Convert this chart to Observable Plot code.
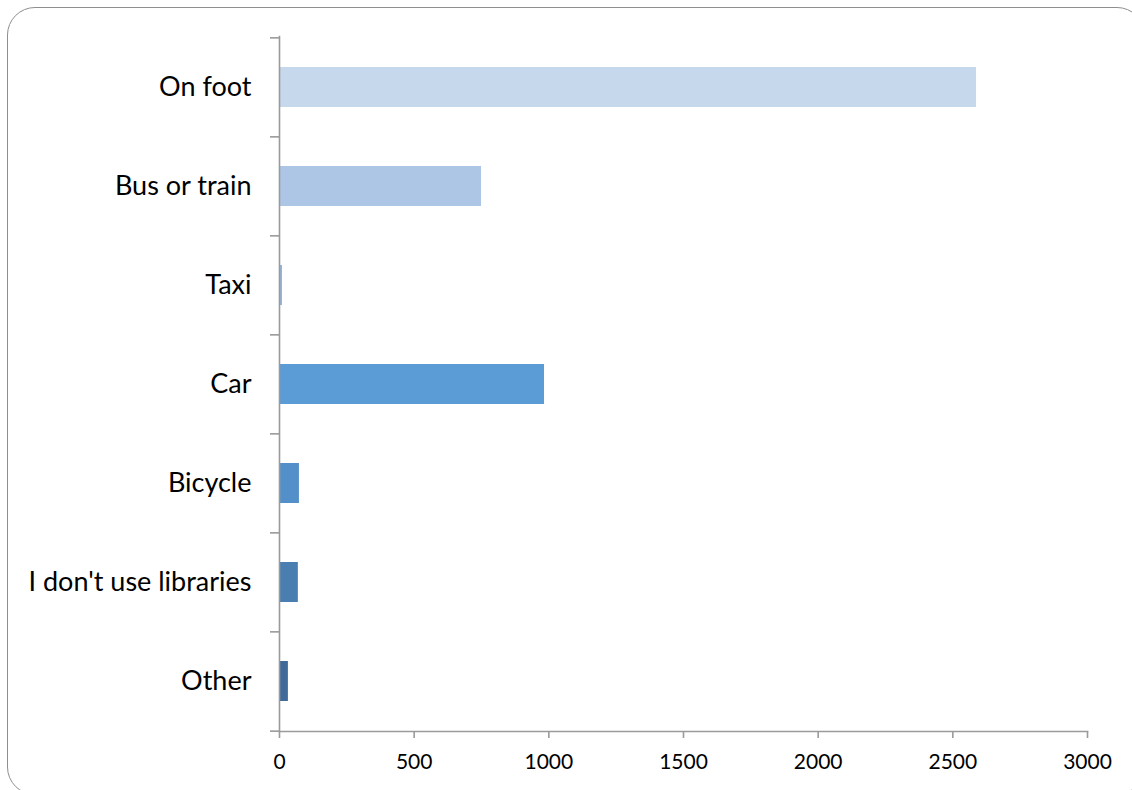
<!DOCTYPE html>
<html>
<head>
<meta charset="utf-8">
<script src="https://cdn.jsdelivr.net/npm/d3@7"></script>
<script src="https://cdn.jsdelivr.net/npm/@observablehq/plot@0.6"></script>
<style>
  html, body { margin: 0; padding: 0; background: #fff; overflow: hidden; }
  #wrap { position: relative; width: 1132px; height: 790px; overflow: hidden; }
  #box { position: absolute; left: 7px; top: 7px; width: 1138px; height: 788px;
         border: 1.5px solid #8e8e8e; border-radius: 28px; box-sizing: border-box; }
  #chart { position: absolute; left: 0; top: 0; }
</style>
</head>
<body>
<div id="wrap"><div id="box"></div><div id="chart"></div></div>
<script>
const categories = ["On foot", "Bus or train", "Taxi", "Car", "Bicycle", "I don't use libraries", "Other"];
const values = [2588, 750, 11, 984, 74, 70, 33];
const colors = ["#c6d8ec", "#adc6e6", "#8fb4e0", "#5b9bd6", "#5390c9", "#4a7eb1", "#3f6a99"];
const xTicks = [0, 500, 1000, 1500, 2000, 2500, 3000];

const data = categories.map((c, i) => ({category: c, value: values[i], color: colors[i]}));

const W = 1132, H = 790;
const mTop = 36, mBottom = 59, mLeft = 279, mRight = 45;
const step = (H - mTop - mBottom) / categories.length;
const axisColor = "#9a9a9a";

const chart = Plot.plot({
  width: W,
  height: H,
  marginTop: mTop,
  marginBottom: mBottom,
  marginLeft: mLeft,
  marginRight: mRight,
  style: {fontFamily: "Lato, sans-serif", background: "transparent", color: "#000"},
  x: {domain: [0, 3000], ticks: xTicks},
  y: {domain: categories, paddingInner: 0.6, paddingOuter: 0.3},
  marks: [
    Plot.barX(data, {y: "category", x: "value", fill: "color"}),
    Plot.frame({anchor: "left", stroke: axisColor, strokeWidth: 1.6}),
    Plot.frame({anchor: "bottom", stroke: axisColor, strokeWidth: 1.6}),
    // category labels
    Plot.axisY({tickSize: 0, tickPadding: 28, fontSize: 27, label: null, fill: "#000"}),
    // tick marks between categories
    Plot.axisY({ticks: categories, tickSize: 9, text: null, label: null, dy: -step / 2, stroke: axisColor, strokeWidth: 1.6}),
    Plot.axisY({ticks: categories.slice(-1), tickSize: 9, text: null, label: null, dy: step / 2, stroke: axisColor, strokeWidth: 1.6}),
    Plot.axisX({ticks: xTicks, tickSize: 7, tickPadding: 16, fontSize: 21, label: null, stroke: axisColor, strokeWidth: 1.6, fill: "#000", tickFormat: d => String(d)})
  ]
});
document.getElementById("chart").appendChild(chart);
</script>
</body>
</html>
